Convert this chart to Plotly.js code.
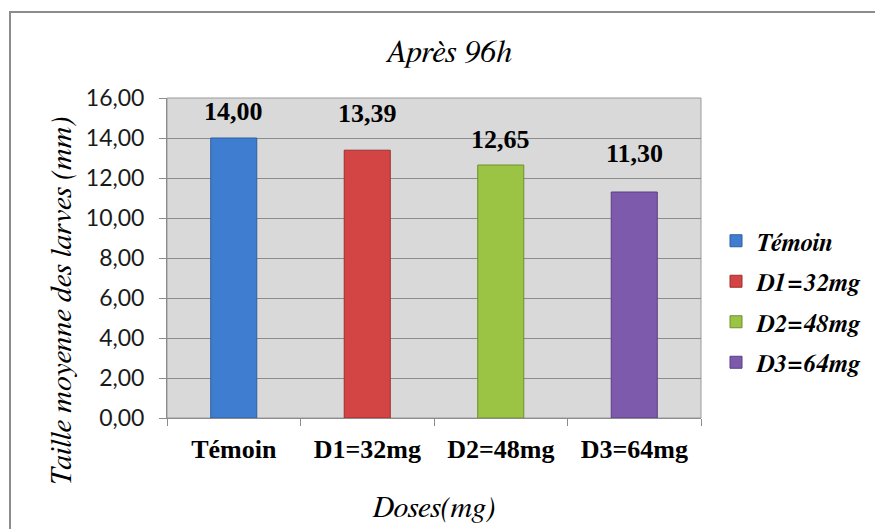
<!DOCTYPE html>
<html>
<head>
<meta charset="utf-8">
<script src="https://cdn.plot.ly/plotly-3.0.1.min.js"></script>
<style>
  html, body { margin: 0; padding: 0; background: #ffffff; }
  #chart { width: 875px; height: 529px; }
</style>
</head>
<body>
<div id="chart"></div>
<script>
// Mean larval size after 96 h, per dose group
const categories = ['Témoin', 'D1=32mg', 'D2=48mg', 'D3=64mg'];
const seriesNames = ['Témoin', 'D1=32mg', 'D2=48mg', 'D3=64mg'];
const meanSize = [14.00, 13.39, 12.65, 11.30];
const yTickValues = [0, 2, 4, 6, 8, 10, 12, 14, 16];

// Styling
const fillColors = ['#3f7dd0', '#d34545', '#9bc445', '#7d5aac'];
const edgeColors = ['#2d5e9e', '#9e2f2f', '#6f8f2c', '#5a3f80'];
const labelLift = [10, 20, 9, 22];   // extra gap above each bar for its value label
const serif = 'Liberation Serif';              // upright / bold text
const serifItalic = 'FreeSerif, Noto Serif';   // italic text

const fmt = v => v.toFixed(2).replace('.', ',');

const traces = categories.map((cat, i) => ({
  type: 'bar',
  name: '<b><i>' + seriesNames[i] + '</i></b>',
  x: [cat],
  y: [meanSize[i]],
  width: 0.345,
  legendgroup: 'g' + i,
  marker: {
    color: fillColors[i],
    line: { color: edgeColors[i], width: 1 }
  },
  hoverinfo: 'x+y'
}));

const valueLabels = categories.map((cat, i) => ({
  x: cat,
  y: meanSize[i],
  xref: 'x',
  yref: 'y',
  text: '<b>' + fmt(meanSize[i]) + '</b>',
  showarrow: false,
  yanchor: 'bottom',
  yshift: labelLift[i],
  font: { family: serif, size: 26, color: '#000000' }
}));

const layout = {
  width: 875,
  height: 529,
  margin: { l: 167, r: 174, t: 98, b: 111 },
  font: { family: serif, color: '#000000' },
  paper_bgcolor: '#ffffff',
  plot_bgcolor: '#d9d9d9',
  barmode: 'overlay',
  bargap: 0,
  showlegend: true,
  title: {
    text: '<i>Après 96h</i>',
    font: { family: serifItalic, size: 32, color: '#000000' },
    x: 449 / 875,
    xref: 'container',
    xanchor: 'center',
    y: 1 - 51 / 529,
    yref: 'container',
    yanchor: 'middle'
  },
  xaxis: {
    type: 'category',
    categoryorder: 'array',
    categoryarray: categories,
    tickson: 'boundaries',
    ticks: 'outside',
    ticklen: 7,
    tickcolor: '#8c8c8c',
    ticklabelstandoff: 8,
    showline: true,
    linecolor: '#8c8c8c',
    linewidth: 1,
    showgrid: false,
    tickfont: { family: serif, size: 26, color: '#000000', weight: 'bold' },
    title: {
      text: '<i>Doses(mg)</i>',
      font: { family: serifItalic, size: 30, color: '#000000' },
      standoff: 32
    },
    fixedrange: true
  },
  yaxis: {
    range: [0, 16],
    tickvals: yTickValues,
    ticktext: yTickValues.map(fmt),
    ticks: 'outside',
    ticklen: 7,
    tickcolor: '#8c8c8c',
    ticklabelstandoff: 10,
    showline: true,
    linecolor: '#8c8c8c',
    linewidth: 1,
    showgrid: true,
    gridcolor: '#8c8c8c',
    gridwidth: 1,
    zeroline: false,
    tickfont: { family: 'Lato', size: 23, color: '#1a1a1a' },
    fixedrange: true
  },
  legend: {
    x: 716 / 875,
    xref: 'container',
    y: (418 - 218) / 320,
    xanchor: 'left',
    yanchor: 'top',
    traceorder: 'grouped',
    tracegroupgap: 5,
    itemwidth: 30,
    bgcolor: 'rgba(0,0,0,0)',
    font: { family: serifItalic, size: 25, color: '#000000' }
  },
  annotations: valueLabels.concat([{
    text: '<i>Taille moyenne des larves (mm)</i>',
    xref: 'paper',
    yref: 'paper',
    x: (62 - 167) / 534,
    y: (418 - 301) / 320,
    xanchor: 'center',
    yanchor: 'middle',
    textangle: -90,
    showarrow: false,
    font: { family: serifItalic, size: 30, color: '#000000' }
  }]),
  shapes: [
    // outer chart frame
    {
      type: 'rect', xref: 'paper', yref: 'paper',
      x0: (10 - 167) / 534, x1: (890 - 167) / 534,
      y0: (418 - 545) / 320, y1: (418 - 12) / 320,
      line: { color: '#8c8c8c', width: 2 },
      fillcolor: 'rgba(0,0,0,0)',
      layer: 'below'
    },
    // plot-area border
    {
      type: 'rect', xref: 'paper', yref: 'paper',
      x0: 0, x1: 1, y0: 0, y1: 1,
      line: { color: '#9a9a9a', width: 1 },
      fillcolor: 'rgba(0,0,0,0)',
      layer: 'below'
    }
  ]
};

Plotly.newPlot('chart', traces, layout, { displayModeBar: false, staticPlot: true });
</script>
</body>
</html>
